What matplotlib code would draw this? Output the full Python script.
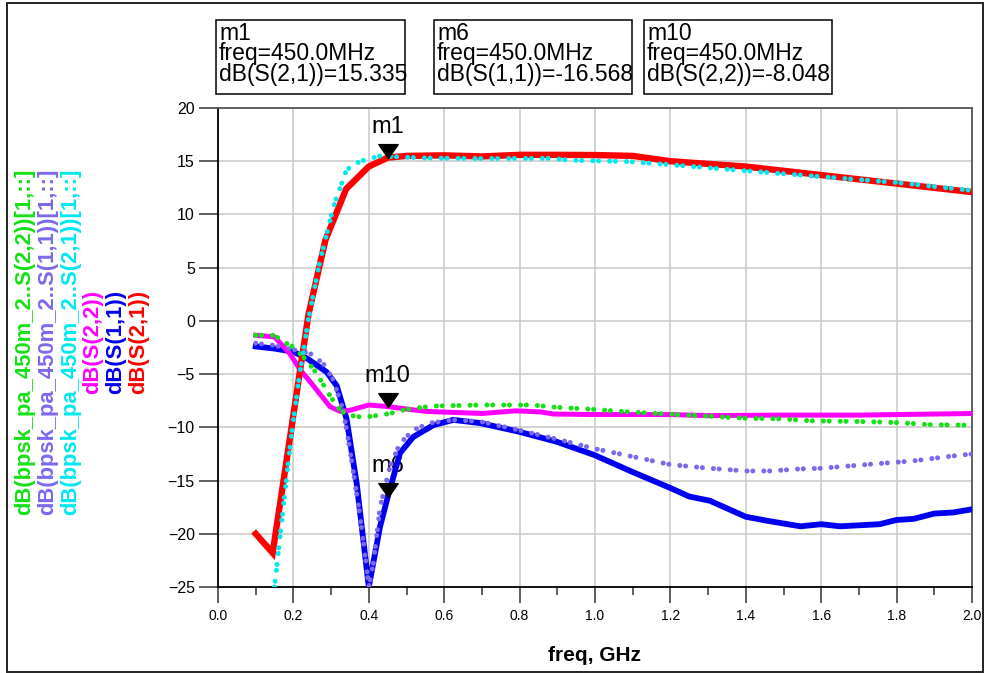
import numpy as np
import matplotlib
matplotlib.use('Agg')
import matplotlib.pyplot as plt
from matplotlib import font_manager
from matplotlib.patches import Rectangle
from matplotlib.path import Path

# --- data (freq in GHz, values in dB) ---
f_s21 = [0.10, 0.145, 0.24, 0.285, 0.34, 0.40, 0.45, 0.50, 0.60, 0.70, 0.80, 0.90, 1.00,
         1.10, 1.20, 1.30, 1.40, 1.50, 1.60, 1.70, 1.80, 1.90, 2.00]
s21 = [-20.0, -21.8, 0.6, 7.6, 12.4, 14.5, 15.335, 15.5, 15.55, 15.45, 15.6, 15.6, 15.58,
       15.5, 15.0, 14.75, 14.5, 14.1, 13.7, 13.3, 12.9, 12.5, 12.1]

f_s11 = [0.10, 0.15, 0.20, 0.235, 0.288, 0.315, 0.341, 0.368, 0.40, 0.43, 0.45, 0.483, 0.518,
         0.571, 0.624, 0.695, 0.797, 0.898, 0.998, 1.10, 1.20, 1.25, 1.305, 1.40, 1.46, 1.545,
         1.60, 1.65, 1.755, 1.80, 1.845, 1.90, 1.95, 2.00]
s11 = [-2.4, -2.6, -2.9, -3.5, -4.8, -6.1, -9.2, -15.3, -25.0, -19.3, -16.568, -12.4, -10.9,
       -9.8, -9.3, -9.6, -10.4, -11.35, -12.6, -14.2, -15.7, -16.5, -16.9, -18.4, -18.8, -19.3,
       -19.1, -19.3, -19.1, -18.7, -18.6, -18.1, -18.0, -17.7]

f_s22 = [0.10, 0.15, 0.19, 0.218, 0.244, 0.297, 0.324, 0.35, 0.40, 0.45, 0.483, 0.55, 0.70,
         0.79, 0.855, 0.89, 1.00, 1.20, 1.30, 1.50, 1.70, 2.00]
s22 = [-1.35, -1.5, -3.05, -4.6, -5.7, -8.05, -8.5, -8.4, -7.9, -8.048, -8.2, -8.5, -8.7,
       -8.45, -8.55, -8.75, -8.8, -8.8, -8.9, -8.85, -8.85, -8.7]

# measured data (bpsk_pa_450m_2)
f_m21 = [0.15, 0.173, 0.195, 0.217, 0.24, 0.271, 0.306, 0.341, 0.377, 0.43, 0.483, 0.55, 0.70,
         0.89, 0.93, 1.09, 1.19, 1.33, 1.40, 1.58, 1.80, 2.00]
m21 = [-25.0, -17.5, -10.6, -4.9, 0.2, 5.7, 10.7, 14.2, 15.0, 15.5, 15.4, 15.3, 15.25,
       15.27, 15.1, 14.96, 14.7, 14.3, 14.1, 13.6, 13.0, 12.25]

f_m11 = [0.10, 0.15, 0.20, 0.244, 0.279, 0.306, 0.332, 0.35, 0.377, 0.394, 0.40, 0.412, 0.43,
         0.456, 0.483, 0.518, 0.562, 0.624, 0.695, 0.797, 0.898, 0.998, 1.10, 1.20, 1.305,
         1.40, 1.465, 1.545, 1.60, 1.65, 1.755, 1.845, 1.935, 2.00]
m11 = [-2.1, -2.3, -2.7, -3.05, -4.0, -5.55, -8.4, -12.1, -18.4, -23.1, -25.0, -22.8, -17.5,
       -13.7, -11.5, -10.25, -9.6, -9.3, -9.45, -10.25, -11.1, -12.0, -12.75, -13.5, -13.85,
       -14.1, -14.1, -13.9, -13.85, -13.7, -13.4, -13.15, -12.75, -12.5]

f_m22 = [0.10, 0.15, 0.173, 0.20, 0.235, 0.262, 0.288, 0.315, 0.341, 0.385, 0.43, 0.456, 0.50,
         0.571, 0.70, 0.785, 0.835, 0.89, 0.99, 1.09, 1.19, 1.30, 1.40, 1.49, 1.58, 1.695,
         1.80, 1.89, 2.00]
m22 = [-1.35, -1.35, -1.95, -2.45, -3.7, -4.95, -6.5, -8.05, -8.85, -9.05, -8.85, -8.7, -8.3,
       -8.0, -7.9, -7.9, -7.9, -8.1, -8.3, -8.55, -8.75, -8.95, -9.15, -9.2, -9.4, -9.45,
       -9.55, -9.75, -9.8]

# markers m1 / m6 / m10
mk_names = ['m1', 'm6', 'm10']
mk_freq = [0.45, 0.45, 0.45]
mk_vals = [15.335, -16.568, -8.048]
mk_traces = ['dB(S(2,1))', 'dB(S(1,1))', 'dB(S(2,2))']

legend_labels = ['dB(bpsk_pa_450m_2..S(2,2))[1,::]', 'dB(bpsk_pa_450m_2..S(1,1))[1,::]',
                 'dB(bpsk_pa_450m_2..S(2,1))[1,::]', 'dB(S(2,2))', 'dB(S(1,1))', 'dB(S(2,1))']

c_green = '#16e016'
c_purple = '#7b68ee'
c_cyan = '#00e8f0'
c_magenta = '#ff00ff'
c_blue = '#0000f0'
c_red = '#ff0000'

names = {f.name for f in font_manager.fontManager.ttflist}
sans = 'Liberation Sans' if 'Liberation Sans' in names else 'DejaVu Sans'
plt.rcParams['font.family'] = sans

W, H = 984, 673
fig = plt.figure(figsize=(W / 100, H / 100), dpi=100)


def fx(x):
    return x / W


def fy(y):
    return 1 - y / H


ax = fig.add_axes([fx(218), fy(587), (972 - 218) / W, (587 - 108) / H])

dots = (0, (0.01, 1.15, 0.01, 2.2))
ax.plot(f_s11, s11, color=c_blue, lw=4.2, zorder=3, solid_joinstyle='miter')
ax.plot(f_s22, s22, color=c_magenta, lw=3.6, zorder=3)
ax.plot(f_s21, s21, color=c_red, lw=4.6, zorder=3, solid_joinstyle='miter')
ax.plot(f_m11, m11, color=c_purple, lw=3.6, ls=dots, dash_capstyle='round', zorder=4)
ax.plot(f_m22, m22, color=c_green, lw=3.6, ls=dots, dash_capstyle='round', zorder=4)
ax.plot(f_m21, m21, color=c_cyan, lw=3.6, ls=dots, dash_capstyle='round', zorder=4)

# marker triangles, tip on the trace
tri = Path([(-1.4, 2), (1.4, 2), (0, 0), (-1.4, 2)],
           [Path.MOVETO, Path.LINETO, Path.LINETO, Path.CLOSEPOLY])
ax.plot(mk_freq, mk_vals, ls='none', marker=tri, markersize=20, color='black', zorder=6)
for n, fq, v in zip(mk_names, mk_freq, mk_vals):
    ax.annotate(n, xy=(fq, v), xytext=(0, 18), textcoords='offset points',
                ha='center', va='baseline', fontsize=17, zorder=1.5)

ax.set_xlim(0, 2.0)
ax.set_ylim(-25, 20)
ax.set_xticks(np.arange(0, 2.01, 0.2))
ax.set_xticks(np.arange(0.1, 2.0, 0.2), minor=True)
ax.set_xticklabels([f'{t:.1f}' for t in np.arange(0, 2.01, 0.2)])
ax.set_yticks(np.arange(-25, 21, 5))
ax.grid(True, color='#c8c8c8', lw=1.1, zorder=0)
ax.set_axisbelow(True)

for s in ['left', 'bottom']:
    ax.spines[s].set_color('black')
    ax.spines[s].set_linewidth(1.3)
for s in ['top', 'right']:
    ax.spines[s].set_color('#555555')
    ax.spines[s].set_linewidth(1.3)

ax.tick_params(axis='x', which='major', length=11.5, width=1.1, color='#333333', pad=4,
               labelsize=10)
ax.tick_params(axis='x', which='minor', length=5.8, width=1.1, color='#333333')
ax.tick_params(axis='y', length=13.7, width=1.1, color='#333333', pad=3, labelsize=11.5)

ax.set_xlabel('freq, GHz', fontsize=15, fontweight='bold', labelpad=17)

# vertical legend on the left
leg_x = [25, 48, 71, 93, 116, 139]
leg_c = [c_green, c_purple, c_cyan, c_magenta, c_blue, c_red]
for lx, lab, col in zip(leg_x, legend_labels, leg_c):
    fig.text(fx(lx), fy(342), lab, rotation=90, ha='center', va='center',
             color=col, fontsize=15.8, fontweight='bold')

# marker readout boxes
box_left = [216, 434, 644]
box_right = [405, 632, 832]
for bl, br, n, tr, v in zip(box_left, box_right, mk_names, mk_traces, mk_vals):
    fig.patches.append(Rectangle((fx(bl), fy(94)), (br - bl) / W, (94 - 20) / H,
                                 transform=fig.transFigure, fill=False,
                                 edgecolor='black', lw=1.1))
    txt = f'{n}\nfreq=450.0MHz\n{tr}={v:.3f}'
    fig.text(fx(bl + 3), fy(22), txt, ha='left', va='top', fontsize=16.5,
             linespacing=0.86, color='black')

# outer frame (drawn under the axes so the last tick label stays readable)
fig.patches.append(Rectangle((fx(7), fy(672)), (982.5 - 7) / W, (672 - 3) / H,
                             transform=fig.transFigure, fill=False,
                             edgecolor='#222222', lw=1.4, zorder=-1))

fig.savefig('out.png', dpi=100)
